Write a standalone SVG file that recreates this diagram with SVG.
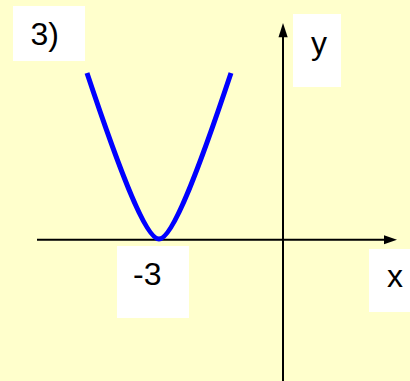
<svg xmlns="http://www.w3.org/2000/svg" width="410" height="381" viewBox="0 0 410 381">
  <style>
    .lbl { fill: #FFFFFF; stroke: none; }
    .txt { font-family: "Liberation Sans", Arial, sans-serif; font-size: 32px; fill: #000000; }
    .axis { stroke: #000000; stroke-width: 2; fill: none; }
    .head { fill: #000000; stroke: none; }
    .curve { stroke: #0000FF; stroke-width: 5; fill: none; stroke-linecap: butt; stroke-linejoin: round; }
  </style>
  <rect x="0" y="0" width="410" height="381" fill="#FFFFCC"/>
  <g id="connectors">
    <line class="axis" x1="37" y1="239.7" x2="386" y2="239.7"/>
    <polygon class="head" points="397,239.7 384,235.2 384,244.2"/>
    <line class="axis" x1="283" y1="381" x2="283" y2="34"/>
    <polygon class="head" points="283,23 278.5,37.3 287.7,37.3"/>
  </g>
  <g id="parabola">
    <path class="curve" d="M87,73 C117,163 145,239 159,239 C173,239 201,163 231,73"/>
  </g>
  <g id="label-3paren">
    <rect class="lbl" x="13" y="6" width="72" height="55"/>
    <text class="txt" x="30.4" y="45">3)</text>
  </g>
  <g id="label-y">
    <rect class="lbl" x="293" y="14" width="48" height="73"/>
    <text class="txt" x="311" y="54">y</text>
  </g>
  <g id="label-minus3">
    <rect class="lbl" x="117" y="246" width="72" height="72"/>
    <text class="txt" x="133" y="284.5">-3</text>
  </g>
  <g id="label-x">
    <rect class="lbl" x="369" y="249" width="41" height="63"/>
    <text class="txt" x="387" y="287.3">x</text>
  </g>
</svg>
